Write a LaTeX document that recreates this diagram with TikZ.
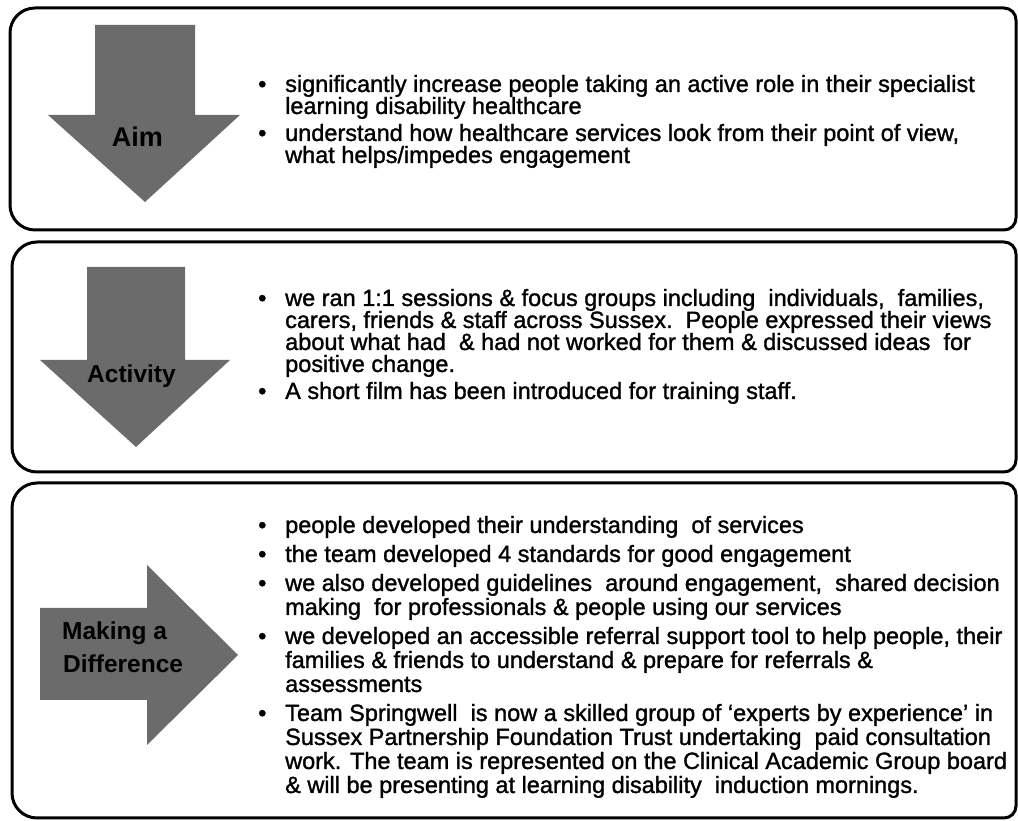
\documentclass[tikz,border=0pt]{standalone}
\usepackage{fontspec}
\setmainfont{Liberation Sans}
\newfontfamily\bodyfnt{Liberation Sans}[FakeBold=1.3]
\newfontfamily\labelfnt{Liberation Sans Bold}
\newcommand\itemlines[2]{\parbox[t]{730pt}{\bodyfnt\fontsize{23.5}{#1}\selectfont\lineskiplimit=-30pt\raggedright #2}}
\tikzset{
  panel/.style={line width=3pt, line join=round},
  bigarrow/.style={fill=black!58, draw=none},
  arrowlabel/.style={inner sep=0pt, font=\labelfnt\fontsize{24.5}{26}\selectfont, text=black},
  bodytext/.style={anchor=base west, inner sep=0pt},
  bulletmark/.style={anchor=base west, inner sep=0pt, font=\bodyfnt\fontsize{23.5}{24}\selectfont}
}
\begin{document}
\begin{tikzpicture}[x=1pt,y=1pt]
\useasboundingbox (0,0) rectangle (1018,821);
% panels
\draw[panel] (10,616) -- (10,788) arc[start angle=180,end angle=90,radius=25pt] -- (1004,813) arc[start angle=90,end angle=0,radius=12pt] -- (1016,603) arc[start angle=0,end angle=-90,radius=12pt] -- (35,591) arc[start angle=270,end angle=180,radius=25pt] -- cycle;
\draw[panel] (12,374) -- (12,554) arc[start angle=180,end angle=90,radius=25pt] -- (1004,579) arc[start angle=90,end angle=0,radius=12pt] -- (1016,361) arc[start angle=0,end angle=-90,radius=12pt] -- (37,349) arc[start angle=270,end angle=180,radius=25pt] -- cycle;
\draw[panel] (12,28) -- (12,313) arc[start angle=180,end angle=90,radius=25pt] -- (1004,338) arc[start angle=90,end angle=0,radius=12pt] -- (1016,15) arc[start angle=0,end angle=-90,radius=12pt] -- (37,3) arc[start angle=270,end angle=180,radius=25pt] -- cycle;
% arrows
\fill[bigarrow] (95,796) -- (195,796) -- (195,706) -- (240,706) -- (145,619) -- (48,706) -- (95,706) -- cycle;
\fill[bigarrow] (87,554) -- (185,554) -- (185,461) -- (230,461) -- (136,374) -- (40,461) -- (87,461) -- cycle;
\fill[bigarrow] (40,213) -- (147,213) -- (147,256) -- (238,166) -- (147,76) -- (147,121) -- (40,121) -- cycle;
% arrow labels
\node[arrowlabel, anchor=base, font=\labelfnt\fontsize{27}{28}\selectfont] (aim) at (137.5,674) {Aim};
\node[arrowlabel, anchor=base] (activity) at (131.5,438) {Activity};
\node[arrowlabel, anchor=base west] (making) at (62,181) {Making a};
\node[arrowlabel, anchor=base west] (difference) at (63,148) {Difference};
% box 1 text
\node[bulletmark] (b1a) at (258,729) {\textbullet};
\node[bodytext] (t1a) at (285,729) {\itemlines{22}{significantly increase people taking an active role in their specialist\\ learning disability healthcare}};
\node[bulletmark] (b1b) at (258,680) {\textbullet};
\node[bodytext] (t1b) at (285,680) {\itemlines{22}{understand how healthcare services look from their point of view,\\ what helps/impedes engagement}};
% box 2 text
\node[bulletmark] (b2a) at (258,515) {\textbullet};
\node[bodytext] (t2a) at (285,515) {\itemlines{22}{we ran 1:1 sessions \& focus groups including\ \ individuals,\ \ families,\\ carers, friends \& staff across Sussex.\ \ People expressed their views\\ about what had\ \ \& had not worked for them \& discussed ideas\ \ for\\ positive change.}};
\node[bulletmark] (b2b) at (258,422) {\textbullet};
\node[bodytext] (t2b) at (285,422) {\itemlines{22}{A short film has been introduced for training staff.}};
% box 3 text
\node[bulletmark] (b3a) at (258,288) {\textbullet};
\node[bodytext] (t3a) at (285,288) {\itemlines{24}{people developed their understanding\ \ of services}};
\node[bulletmark] (b3b) at (258,259) {\textbullet};
\node[bodytext] (t3b) at (285,259) {\itemlines{24}{the team developed 4 standards for good engagement}};
\node[bulletmark] (b3c) at (258,230) {\textbullet};
\node[bodytext] (t3c) at (285,230) {\itemlines{24}{we also developed guidelines\ \ around engagement,\ \ shared decision\\ making\ \ for professionals \& people using our services}};
\node[bulletmark] (b3d) at (258,177) {\textbullet};
\node[bodytext] (t3d) at (285,177) {\itemlines{24}{we developed an accessible referral support tool to help people, their\\ families \& friends to understand \& prepare for referrals \&\\ assessments}};
\node[bulletmark] (b3e) at (258,100) {\textbullet};
\node[bodytext] (t3e) at (285,100) {\itemlines{24}{Team Springwell\ \ is now a skilled group of ‘experts by experience’ in\\ Sussex Partnership Foundation Trust undertaking\ \ paid consultation\\ work. The team is represented on the Clinical Academic Group board\\ \& will be presenting at learning disability\ \ induction mornings.}};
\end{tikzpicture}
\end{document}
